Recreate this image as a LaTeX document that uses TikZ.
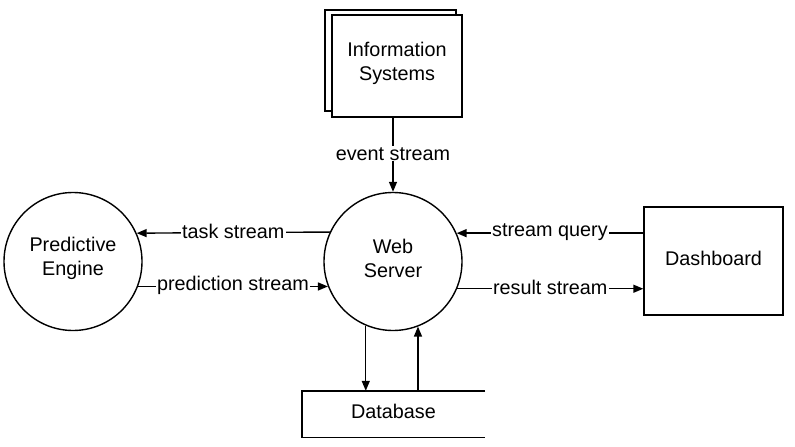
\documentclass[tikz,border=0pt]{standalone}
\usepackage{fontspec}
\setmainfont{Liberation Sans}
\usetikzlibrary{arrows.meta}
\begin{document}
\begin{tikzpicture}[x=1pt,y=-1pt,
  every node/.style={font=\fontsize{19.8}{24}\selectfont},
  proc/.style={circle,draw,line width=1.4pt,minimum size=138pt,inner sep=0pt},
  box/.style={rectangle,draw,line width=1.4pt,inner sep=0pt},
  txt/.style={align=center,inner sep=0pt,yshift=3pt},
  flow/.style={line width=1.4pt,-{Triangle[length=10pt,width=8pt]}},
  lbl/.style={midway,fill=white,inner xsep=1.5pt,inner ysep=1pt,yshift=1pt}]
\useasboundingbox (0,0) rectangle (795,447);
% nodes
\node[box,minimum width=131pt,minimum height=101pt] (isback) at (390.5,60.5) {};
\node[box,fill=white,minimum width=130pt,minimum height=102pt] (is) at (397,66) {};
\node[txt] (istxt) at (is.center) {Information\\Systems};
\node[proc] (ws) at (393,261.5) {};
\node[txt] (wstxt) at (ws.center) {Web\\Server};
\node[proc] (pe) at (73,261.5) {};
\node[txt] (petxt) at (pe.center) {Predictive\\Engine};
\node[box,minimum width=139pt,minimum height=108pt] (dash) at (713.5,261) {};
\node[txt] (dashtxt) at (dash.center) {Dashboard};
\node[inner sep=0pt,minimum width=183pt,minimum height=46pt] (dbase) at (393.5,414) {};
\node[txt] (dbtxt) at (dbase.center) {Database};
\draw[line width=1.4pt] (dbase.north east) -- (dbase.north west) -- (dbase.south west) -- (dbase.south east);
% connectors
\draw[flow] (is.south -| ws.north) -- node[lbl]{event stream} (ws.north);
\draw[flow] (ws.155.6) -- node[lbl]{task stream} (pe.24.4);
\draw[flow] (pe.-21.7) -- node[lbl]{prediction stream} (ws.201.7);
\draw[flow] (dash.west |- ws.24.4) -- node[lbl]{stream query} (ws.24.4);
\draw[flow] (ws.-23.5) -- node[lbl]{result stream} (dash.west |- ws.-23.5);
\draw[flow] (ws.-113.9) -- (ws.-113.9 |- dbase.north);
\draw[flow] (ws.-69.6 |- dbase.north) -- (ws.-69.6);
\end{tikzpicture}
\end{document}
